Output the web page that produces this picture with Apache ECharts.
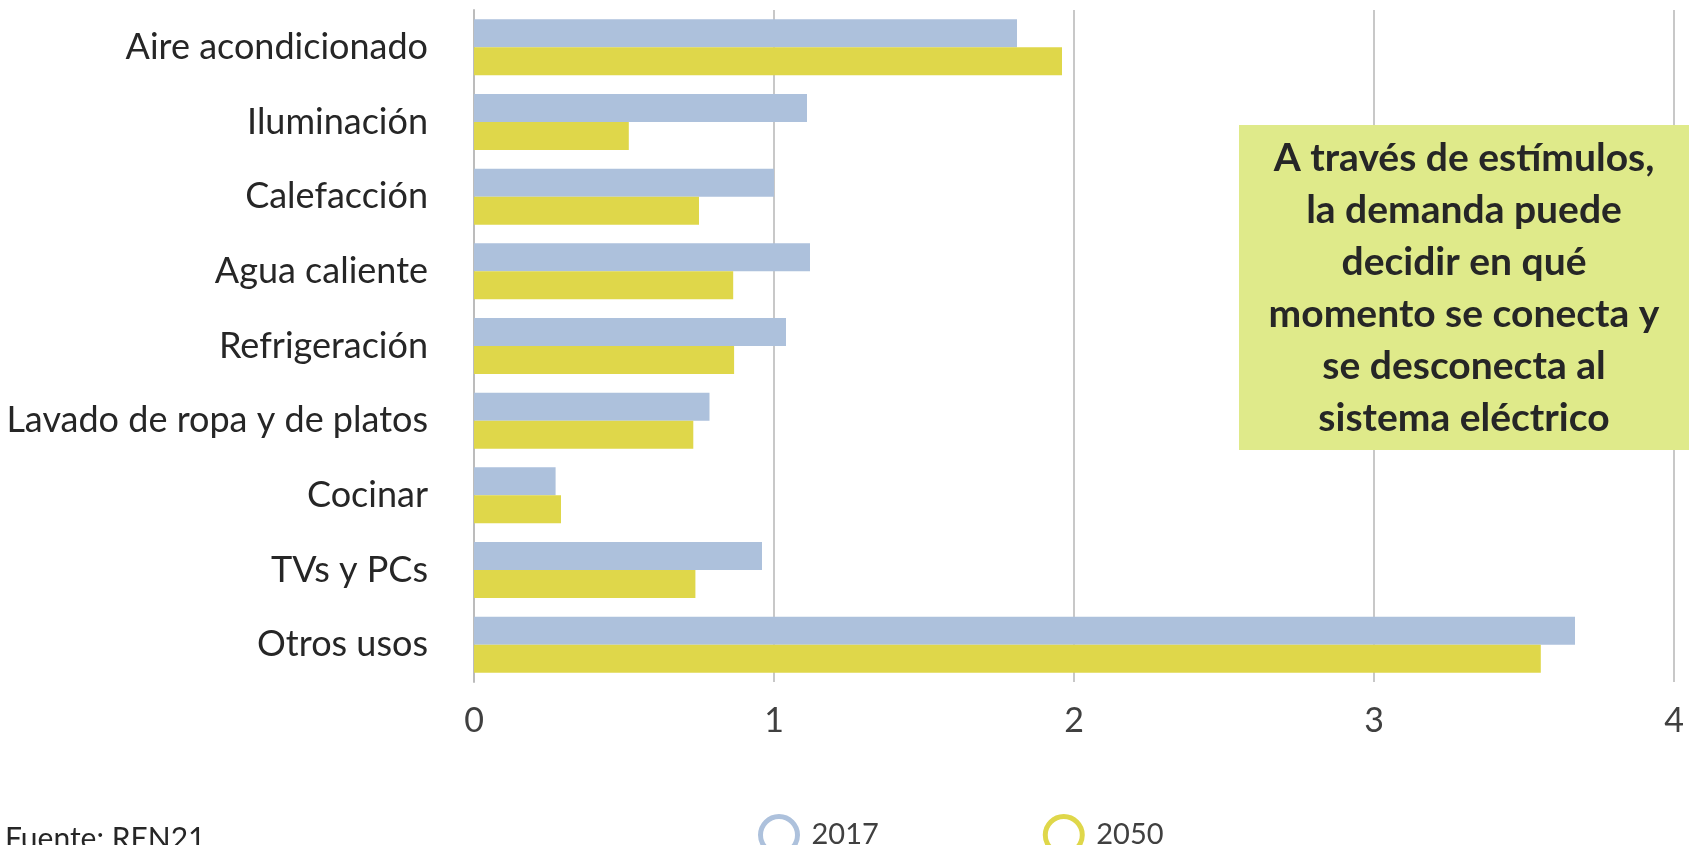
<!DOCTYPE html>
<html>
<head>
<meta charset="utf-8">
<script src="https://cdn.jsdelivr.net/npm/echarts@6/dist/echarts.min.js"></script>
<style>
  html, body { margin: 0; padding: 0; background: #fff; }
  #chart { width: 1689px; height: 845px; }
</style>
</head>
<body>
<div id="chart"></div>
<script>
// usos finales de la electricidad en el hogar
const categories = ['Aire acondicionado', 'Iluminación', 'Calefacción', 'Agua caliente', 'Refrigeración',
  'Lavado de ropa y de platos', 'Cocinar', 'TVs y PCs', 'Otros usos'];
const values2017 = [1.81, 1.11, 1.00, 1.12, 1.04, 0.785, 0.272, 0.96, 3.67];
const values2050 = [1.96, 0.516, 0.75, 0.864, 0.867, 0.731, 0.29, 0.738, 3.556];
const seriesNames = ['2017', '2050'];
const noteLines = ['A través de estímulos,', 'la demanda puede', 'decidir en qué',
  'momento se conecta y', 'se desconecta al', 'sistema eléctrico'];
const sourceText = 'Fuente: REN21';

const colors = ['#adc1dc', '#dfd74a'];
const font = 'Lato, "Open Sans", sans-serif';

const chart = echarts.init(document.getElementById('chart'));
const option = {
  animation: false,
  textStyle: { fontFamily: font },
  grid: { left: 474, right: 15, top: 10, bottom: 163 },
  legend: {
    left: 753,
    top: 809,
    itemWidth: 37,
    itemHeight: 37,
    itemGap: 164,
    icon: 'circle',
    textStyle: { fontSize: 29, color: '#404040', fontFamily: font, padding: [0, 0, 0, 9] },
    data: seriesNames.map((n, i) => ({
      name: n,
      itemStyle: { color: '#fff', borderColor: colors[i], borderWidth: 5 }
    }))
  },
  xAxis: {
    type: 'value',
    min: 0,
    max: 4,
    interval: 1,
    axisLine: { show: false },
    axisTick: { show: false },
    splitLine: { lineStyle: { color: '#c8c8c8', width: 2 } },
    axisLabel: { fontSize: 34, color: '#404040', margin: 22 }
  },
  yAxis: {
    type: 'category',
    data: categories,
    inverse: true,
    axisLine: { lineStyle: { color: '#bcbcbc', width: 2 } },
    axisTick: { show: false },
    axisLabel: { fontSize: 36, color: '#262626', margin: 46 }
  },
  series: seriesNames.map((n, i) => ({
    name: n,
    type: 'bar',
    data: i === 0 ? values2017 : values2050,
    itemStyle: { color: colors[i] },
    barGap: '0%',
    barCategoryGap: '25%'
  })),
  graphic: [
    {
      type: 'rect',
      left: 1239,
      top: 125,
      shape: { width: 450, height: 325 },
      style: { fill: '#dfea8a' },
      z: 100
    },
    {
      type: 'text',
      x: 1464,
      y: 288,
      style: {
        text: noteLines.join('\n'),
        align: 'center',
        verticalAlign: 'middle',
        font: 'bold 39px ' + font,
        lineHeight: 52,
        fill: '#262626'
      },
      z: 101
    },
    {
      type: 'text',
      left: 5,
      top: 824,
      style: { text: sourceText, font: '30px ' + font, fill: '#262626' }
    }
  ]
};
chart.setOption(option);
</script>
</body>
</html>
